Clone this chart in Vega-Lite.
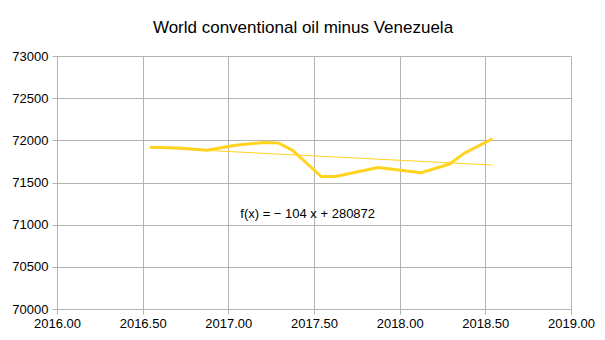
{
  "$schema": "https://vega.github.io/schema/vega-lite/v6.json",
  "width": 514,
  "height": 253,
  "autosize": {"type": "none"},
  "padding": {"left": 57, "top": 56, "right": 34, "bottom": 31},
  "background": "white",
  "title": {"text": "World conventional oil minus Venezuela", "font": "Liberation Sans", "fontSize": 17, "fontWeight": "normal", "color": "#000000", "offset": 13, "anchor": "middle", "dx": -11},
  "config": {"view": {"stroke": null}},
  "datasets": {
    "oil": [
      {"t": 2016.542, "v": 71919},
      {"t": 2016.708, "v": 71908},
      {"t": 2016.875, "v": 71882},
      {"t": 2017.042, "v": 71942},
      {"t": 2017.208, "v": 71975},
      {"t": 2017.292, "v": 71968},
      {"t": 2017.375, "v": 71880},
      {"t": 2017.542, "v": 71571},
      {"t": 2017.625, "v": 71571},
      {"t": 2017.875, "v": 71678},
      {"t": 2018.125, "v": 71615},
      {"t": 2018.292, "v": 71720},
      {"t": 2018.375, "v": 71845},
      {"t": 2018.542, "v": 72019}
    ],
    "trend": [
      {"t": 2016.542, "v": 71915},
      {"t": 2018.542, "v": 71707}
    ],
    "label": [{"t": 2017.463, "v": 71132, "text": "f(x) = − 104 x + 280872"}]
  },
  "layer": [
    {
      "data": {"name": "oil"},
      "mark": {"type": "line", "color": "#ffd320", "strokeWidth": 3, "strokeJoin": "round"},
      "encoding": {
        "x": {"field": "t", "type": "quantitative", "scale": {"domain": [2016, 2019], "nice": false, "zero": false},
          "axis": {"title": null, "values": [2016, 2016.5, 2017, 2017.5, 2018, 2018.5, 2019], "format": ".2f", "labelFlush": false, "labelFont": "Liberation Sans", "labelFontSize": 13, "labelColor": "#000000", "gridColor": "#b3b3b3", "domainColor": "#b3b3b3", "tickColor": "#b3b3b3", "tickSize": 5, "labelPadding": 3}},
        "y": {"field": "v", "type": "quantitative", "scale": {"domain": [70000, 73000], "nice": false, "zero": false},
          "axis": {"title": null, "values": [70000, 70500, 71000, 71500, 72000, 72500, 73000], "format": "d", "labelFlush": false, "labelFont": "Liberation Sans", "labelFontSize": 13, "labelColor": "#000000", "gridColor": "#b3b3b3", "domainColor": "#b3b3b3", "tickColor": "#b3b3b3", "tickSize": 5, "labelPadding": 4}}
      }
    },
    {
      "data": {"name": "trend"},
      "mark": {"type": "line", "color": "#ffd320", "strokeWidth": 1},
      "encoding": {
        "x": {"field": "t", "type": "quantitative"},
        "y": {"field": "v", "type": "quantitative"}
      }
    },
    {
      "data": {"name": "label"},
      "mark": {"type": "text", "font": "Liberation Sans", "fontSize": 13, "color": "#000000", "align": "center", "baseline": "middle"},
      "encoding": {
        "x": {"field": "t", "type": "quantitative"},
        "y": {"field": "v", "type": "quantitative"},
        "text": {"field": "text"}
      }
    }
  ]
}
